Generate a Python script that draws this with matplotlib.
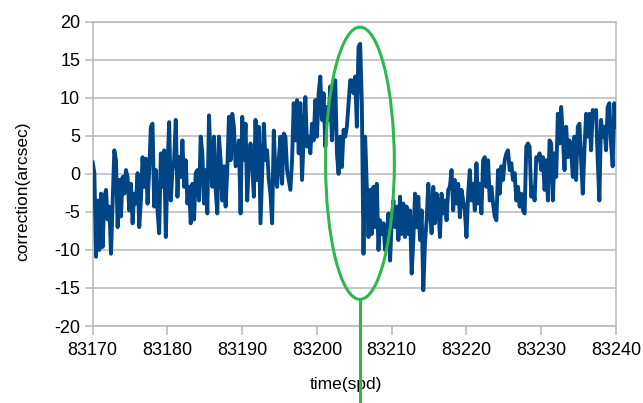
#Librerias
import matplotlib
matplotlib.use("Agg")
import matplotlib.pyplot as plt
import numpy as np
from matplotlib.patches import Ellipse

#Fuente parecida a Arial y guion simple para los negativos
plt.rcParams['font.family'] = ['Liberation Sans', 'DejaVu Sans']
plt.rcParams['axes.unicode_minus'] = False

#Datos (correccion en arcsec, muestreo uniforme en el tiempo)
t_inicio = 83170
t_fin = 83240

correction = [
    # 83170 - 83178
    1.5, 0.1, -10.9, -3.5, -10, -2.6, -9.6, -3, -2.1, -6, -4.3, -10.5, -3.5, 3.1,
    1.8, -7, -0.8, -5.6, -0.4, -2.6, 0.5, -0.4, -4.8, -1.3, -6.5, -2.6, -3.9, 0.1,
    -7, -3.5, 2.2, -1.7, 2, -3.9, 0.5, 6.2, 6.6, -4.3,
    # 83178 - 83187
    0.5, -4.8, -7.8, 2.7, -1.7, 3.1, -8.3, 0.5, 6.8, -3.5, 0.5, 1.8, 7.1, -3,
    2.2, -0.4, 4.4, -1.7, 1.8, -3.9, -1.7, -6.5, -1.3, -6, 0.1, 0.5, -3.5, 4.9,
    2.7, -3.9, 0.5, -5.2, 7.7, 1.8, -1.7, 4.9, -2.1, -5.2, 4.9,
    # 83187 - 83196
    1.8, -3.5, 1, -4.3, 0.5, 7.5, 1.8, 7.9, 6.2, 1, 1.4, 4.4, -5.2, 7.5,
    1.8, 6.6, -3.5, 1.8, 4, 1, -3, 7.1, -0.8, 6.2, -6.5, 0.1, 6.6, 1.8,
    3.1, -0.8, -2.6, -6.5, 5.7, 0.1, -1.7, 1.8, 4.9, -1.3, 5.3,
    # 83196 - 83204.6
    4.9, 0.5, -0.8, -2.1, 1.8, 9.3, 4.4, 9.7, 2.7, 9.3, -0.8, 4.9, 10.1, 3.6,
    4.9, 2.7, 6.6, 4.4, 9.7, 4.9, 10.6, 12.8, 7.1, 10.6, 3.6, 8.8, 7.1, 11.5,
    4.4, 9.7, 12.3, 2.7, 0.0, 4.9, 0.9, 5.8, 4.9, 6.2, 9.3, 12.3,
    # 83204.6 - 83213.4
    12.3, 10.6, 12.8, 6.2, 16.7, 17.1, 9.3, -10.5, 4.9, -1.7, -8.3, -2.1, -7.9, -1.7,
    -7, -1.3, -10.0, -6.1, -7.9, -6.5, -10, -7.9, -5.2, -11.4, -6.1, -3.5, -7, -4.3,
    -8.7, -3.0, -7.9, -3.9, -8.3, -4.3, -7.9, -4.8, -13.1, -8.7, -2.6, -7,
    # 83213.4 - 83222.2
    -3.0, -8.7, -4.8, -15.3, -9.2, -6.1, -1.3, -4.8, -7.8, -1.7, -6.5, -2.6, -3.9, -8.3,
    -2.6, -5.2, -3.5, -6.1, -2.1, -1.7, 0.5, -4.8, -0.8, -3.9, -1.3, -5.7, -2.1, -3.5,
    -4.8, -8.3, -2.6, 0.5, -3.5, -1.3, -4.8, 1.4, -3.9, -1.3, -5.2, 1.8,
    # 83222.2 - 83231
    2.2, -1.7, 1.8, -3.5, -1.7, -3.9, -5.6, -6.1, 0.5, -2.6, 1.0, -0.8, 1.8, 2.7,
    3.1, 0.5, 1.4, -0.8, 0.1, -3.5, -1.7, -4.3, -2.6, -4.8, -5.2, 3.6, 4.0, 3.6,
    -3.0, -1.7, -3.5, 2.2, 1.8, 2.7, 0.5, 2.2, -2.1, 1.8, -3.5, 4.4,
    # 83231 - 83240
    4.0, -3.5, 2.7, -0.4, 7.9, 4.0, 8.8, 4.9, 0.5, 6.2, 2.2, 4.4, 3.1, -0.4,
    4.9, -0.8, 6.2, 6.6, 1.8, -2.6, 3.1, 7.9, 4.9, 7.9, 3.1, 8.4, 7.9, 8.4,
    1.8, -3.5, 7.1, 4.9, 6.2, 3.1, 8.8, 9.3, 4.0, 1.0, 9.3, 6.2,
]

x_ticks = [83170, 83180, 83190, 83200, 83210, 83220, 83230, 83240]
y_ticks = [-20, -15, -10, -5, 0, 5, 10, 15, 20]

#Elipse que marca el salto (centro, ancho, alto en unidades de datos)
elipse_centro = (83205.75, 1.4)
elipse_ancho = 9.2
elipse_alto = 35.8

time = np.linspace(t_inicio, t_fin, len(correction))

#Tamaño de la figura
fig = plt.figure(figsize=(6.43, 4.03), dpi=100)
ax = fig.add_axes([0.1442, 0.191, 0.8138, 0.755])

gris = "#b8b8b8"
azul = "#004586"
verde = "#2eb84c"

ax.plot(time, correction, color=azul, linewidth=2.8, solid_joinstyle="round", zorder=3)

# Elipse y linea vertical en verde
elipse = Ellipse(elipse_centro, elipse_ancho, elipse_alto, fill=False,
                 edgecolor=verde, linewidth=2.2, zorder=4)
ax.add_patch(elipse)
y_base = elipse_centro[1] - elipse_alto / 2
ax.plot([elipse_centro[0], elipse_centro[0]], [y_base, -31], color=verde,
        linewidth=2.2, clip_on=False, zorder=4)

# Ejes y rejilla
ax.set_xlim(t_inicio, t_fin)
ax.set_ylim(-20, 20)
ax.set_xticks(x_ticks)
ax.set_xticklabels([str(v) for v in x_ticks])
ax.set_yticks(y_ticks)
ax.yaxis.grid(True, color=gris, linewidth=1.1)
ax.set_axisbelow(True)
for lado in ["left", "right", "top", "bottom"]:
    ax.spines[lado].set_color(gris)
    ax.spines[lado].set_linewidth(1.1)
ax.tick_params(axis="x", length=6.5, width=1.1, color=gris, pad=5, labelsize=13)
ax.tick_params(axis="y", length=5.5, width=1.1, color=gris, pad=3.5, labelsize=13)

# Titulos de los ejes
ax.set_xlabel("time(spd)", fontsize=12.5)
ax.set_ylabel("correction(arcsec)", fontsize=12.5)
ax.xaxis.set_label_coords(0.483, -0.168)
ax.yaxis.set_label_coords(-0.12, 0.444)

fig.savefig("out.png", dpi=100)
